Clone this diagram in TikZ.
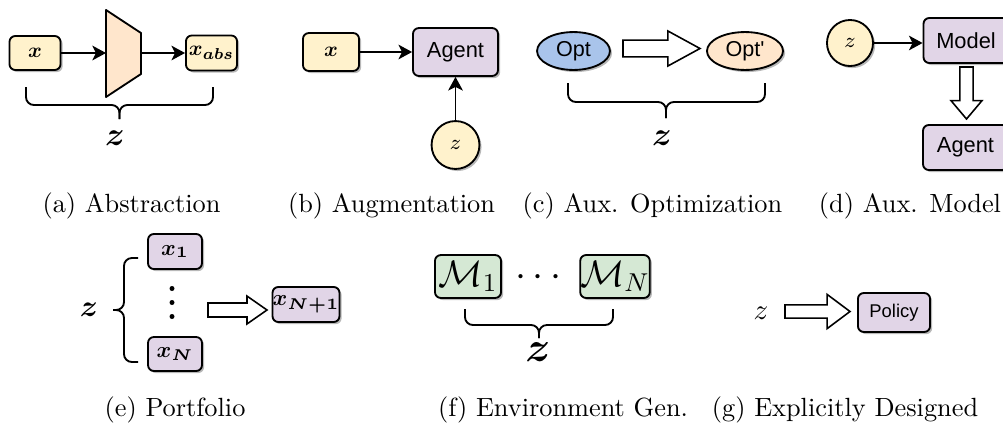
\RequirePackage{fix-cm}
\documentclass[tikz,border=0pt]{standalone}
\usepackage{fontspec}
\usepackage{amsmath}
\usepackage{bm}
\newfontfamily\dsans[Ligatures=TeXOff]{Liberation Sans}
\usetikzlibrary{calc,shadows,arrows.meta,shapes.geometric}
\definecolor{cyel}{HTML}{FFF2CC}
\definecolor{cpur}{HTML}{E1D5E7}
\definecolor{cgrn}{HTML}{D5E8D4}
\definecolor{cpch}{HTML}{FFE6CC}
\definecolor{cblu}{HTML}{A9C4EB}
\newcommand\fsize[1]{\fontsize{#1}{#1}\selectfont}
\newcommand\braceH[6]{%
  \draw[bline] (#1,#4) -- (#1,#5) -- (#3,#5) -- (#3,#6);
  \draw[bline] (#2,#4) -- (#2,#5) -- (#3,#5) -- (#3,#6);}
\tikzset{
  shad/.style={drop shadow={shadow xshift=0.8pt,shadow yshift=-0.8pt,opacity=0.28,fill=black}},
  box/.style={draw, line width=0.7pt, rounded corners=2.2pt, inner sep=0pt, shad},
  circ/.style={circle, draw, line width=0.7pt, inner sep=0pt, fill=cyel, shad, font={\fsize{8}}},
  ell/.style={ellipse, draw, line width=0.7pt, inner sep=0pt, shad, font={\dsans\fsize{8.2}}},
  conn/.style={-{Stealth[length=5.2pt,width=5.6pt,inset=1.4pt]}, line width=0.6pt},
  bline/.style={line width=0.7pt, rounded corners=3pt},
  captxt/.style={font={\fsize{10}}, inner sep=0pt},
  dotmark/.style={fill=black},
  blockarr/.style n args={3}{draw, fill=white, line width=0.6pt, line join=miter,
    to path={($(\tikztotarget)!#3!(\tikztostart)$) coordinate (bahead)
      ($(\tikztostart)!#1!90:(\tikztotarget)$) -- ($(bahead)!#1!90:(\tikztotarget)$)
      -- ($(bahead)!#2!90:(\tikztotarget)$) -- (\tikztotarget)
      -- ($(bahead)!#2!-90:(\tikztotarget)$) -- ($(bahead)!#1!-90:(\tikztotarget)$)
      -- ($(\tikztostart)!#1!-90:(\tikztotarget)$) -- cycle}}
}
\begin{document}
\begin{tikzpicture}[x=0.38pt,y=-0.38pt]
\useasboundingbox (0,0) rectangle (1003,425);
\clip (0,0) rectangle (1003,425);
\fill[white] (0,0) rectangle (1003,425);
% (a) Abstraction
\node[box, fill=cyel, minimum width=19.4pt, minimum height=12.9pt, font={\fsize{8}}] (xa) at (35,53) {$\bm{x}$};
\filldraw[fill=cpch, line width=0.7pt, line join=round] (106,10) -- (141,33) -- (141,74) -- (106,97) -- cycle;
\coordinate (encL) at (106,53);
\coordinate (encR) at (141,53);
\node[box, fill=cyel, minimum width=19.4pt, minimum height=13.3pt, font={\fsize{8}}] (xabs) at (211.5,53) {$\bm{x_{abs}}$};
\draw[conn] (xa) -- (encL);
\draw[conn] (encR) -- (xabs);
\braceH{26}{213}{119.5}{87}{105}{119}
\node[font={\fsize{12.5}}] (za) at (115,138) {$\bm{z}$};
% (b) Augmentation
\node[box, fill=cyel, minimum width=21.3pt, minimum height=14.4pt, font={\fsize{8}}] (xb) at (331,52) {$\bm{x}$};
\node[box, fill=cpur, minimum width=32.3pt, minimum height=18.2pt, font={\dsans\fsize{8.3}}] (agentb) at (455.5,52) {Agent};
\node[circ, minimum size=18.2pt] (zb) at (455.5,145) {$z$};
\draw[conn] (xb) -- (agentb);
\draw[conn] (zb) -- (agentb);
% (c) Aux. Optimization
\node[ell, fill=cblu, minimum width=27.7pt, minimum height=14.4pt] (opt) at (573.5,51) {Opt};
\node[ell, fill=cpch, minimum width=28.9pt, minimum height=14.4pt] (optp) at (745,51) {Opt'};
\coordinate (cas) at (623,48.5);
\coordinate (cae) at (700,48.5);
\draw[blockarr={3.2pt}{6.65pt}{12.2pt}] (cas) to (cae);
\braceH{568}{765}{666}{83}{102}{118}
\node[font={\fsize{12.5}}] (zc) at (662,138) {$\bm{z}$};
% (d) Aux. Model
\node[circ, minimum size=17.5pt] (zd) at (850,43) {$z$};
\node[box, fill=cpur, minimum width=32.3pt, minimum height=17.1pt, font={\dsans\fsize{8.3}}] (model) at (966,40.5) {Model};
\draw[conn] (zd.east) -- (zd.east -| model.west);
\node[box, fill=cpur, minimum width=32.3pt, minimum height=17.1pt, font={\dsans\fsize{8.3}}] (agentd) at (965.5,147.5) {Agent};
\coordinate (das) at (966.5,67);
\coordinate (dae) at (966.5,119);
\draw[blockarr={2.5pt}{5.9pt}{7pt}] (das) to (dae);
% (e) Portfolio
\node[font={\fsize{11.5}}] (ze) at (89,310) {$\bm{z}$};
\draw[bline] (138,258) -- (124,258) -- (124,310) -- (113,310);
\draw[bline] (138,362) -- (124,362) -- (124,310) -- (113,310);
\node[box, fill=cpur, minimum width=20.5pt, minimum height=13.3pt, font={\fsize{8.5}}] (x1) at (175,251.5) {$\bm{x_1}$};
\fill[dotmark] (172,288.5) circle[radius=0.95pt];
\fill[dotmark] (172,302.5) circle[radius=0.95pt];
\fill[dotmark] (172,316.5) circle[radius=0.95pt];
\node[box, fill=cpur, minimum width=20.5pt, minimum height=12.9pt, font={\fsize{8.5}}] (xN) at (175,354) {$\bm{x_N}$};
\coordinate (eas) at (208,310);
\coordinate (eae) at (267,310);
\draw[blockarr={2.66pt}{5.3pt}{7.6pt}] (eas) to (eae);
\node[box, fill=cpur, minimum width=24.3pt, minimum height=13.3pt, font={\fsize{8.5}}] (xN1) at (306,304.5) {$\bm{x_{N+1}}$};
% (f) Environment Gen.
\node[box, fill=cgrn, minimum width=25.1pt, minimum height=16.3pt, font={\fsize{14}}] (m1) at (468,276.5) {$\mathcal{M}_1$};
\node[font={\fsize{15}}, inner sep=0pt] (hd) at (541.5,278) {$\cdots$};
\node[box, fill=cgrn, minimum width=25.1pt, minimum height=16.3pt, font={\fsize{14}}] (mN) at (615,276.5) {$\mathcal{M}_N$};
\braceH{465}{613}{539}{309}{325}{338}
\node[font={\fsize{16}}] (zf) at (538,352) {$\bm{z}$};
% (g) Explicitly Designed
\node[font={\fsize{11}}] (zg) at (761,313) {$z$};
\coordinate (gas) at (785,311.5);
\coordinate (gae) at (850,311.5);
\draw[blockarr={2.5pt}{6.5pt}{8.7pt}] (gas) to (gae);
\node[box, fill=cpur, minimum width=27.4pt, minimum height=14.8pt, font={\dsans\fsize{7}}] (policy) at (894,312.5) {Policy};
% captions
\node[captxt] (capa) at (131.5,206) {(a) Abstraction};
\node[captxt] (capb) at (391.5,206) {(b) Augmentation};
\node[captxt] (capc) at (652.5,206) {(c) Aux. Optimization};
\node[captxt] (capd) at (910,206) {(d) Aux. Model};
\node[captxt] (cape) at (175,410) {(e) Portfolio};
\node[captxt] (capf) at (563,410) {(f) Environment Gen.};
\node[captxt] (capg) at (845,410) {(g) Explicitly Designed};
\end{tikzpicture}
\end{document}
